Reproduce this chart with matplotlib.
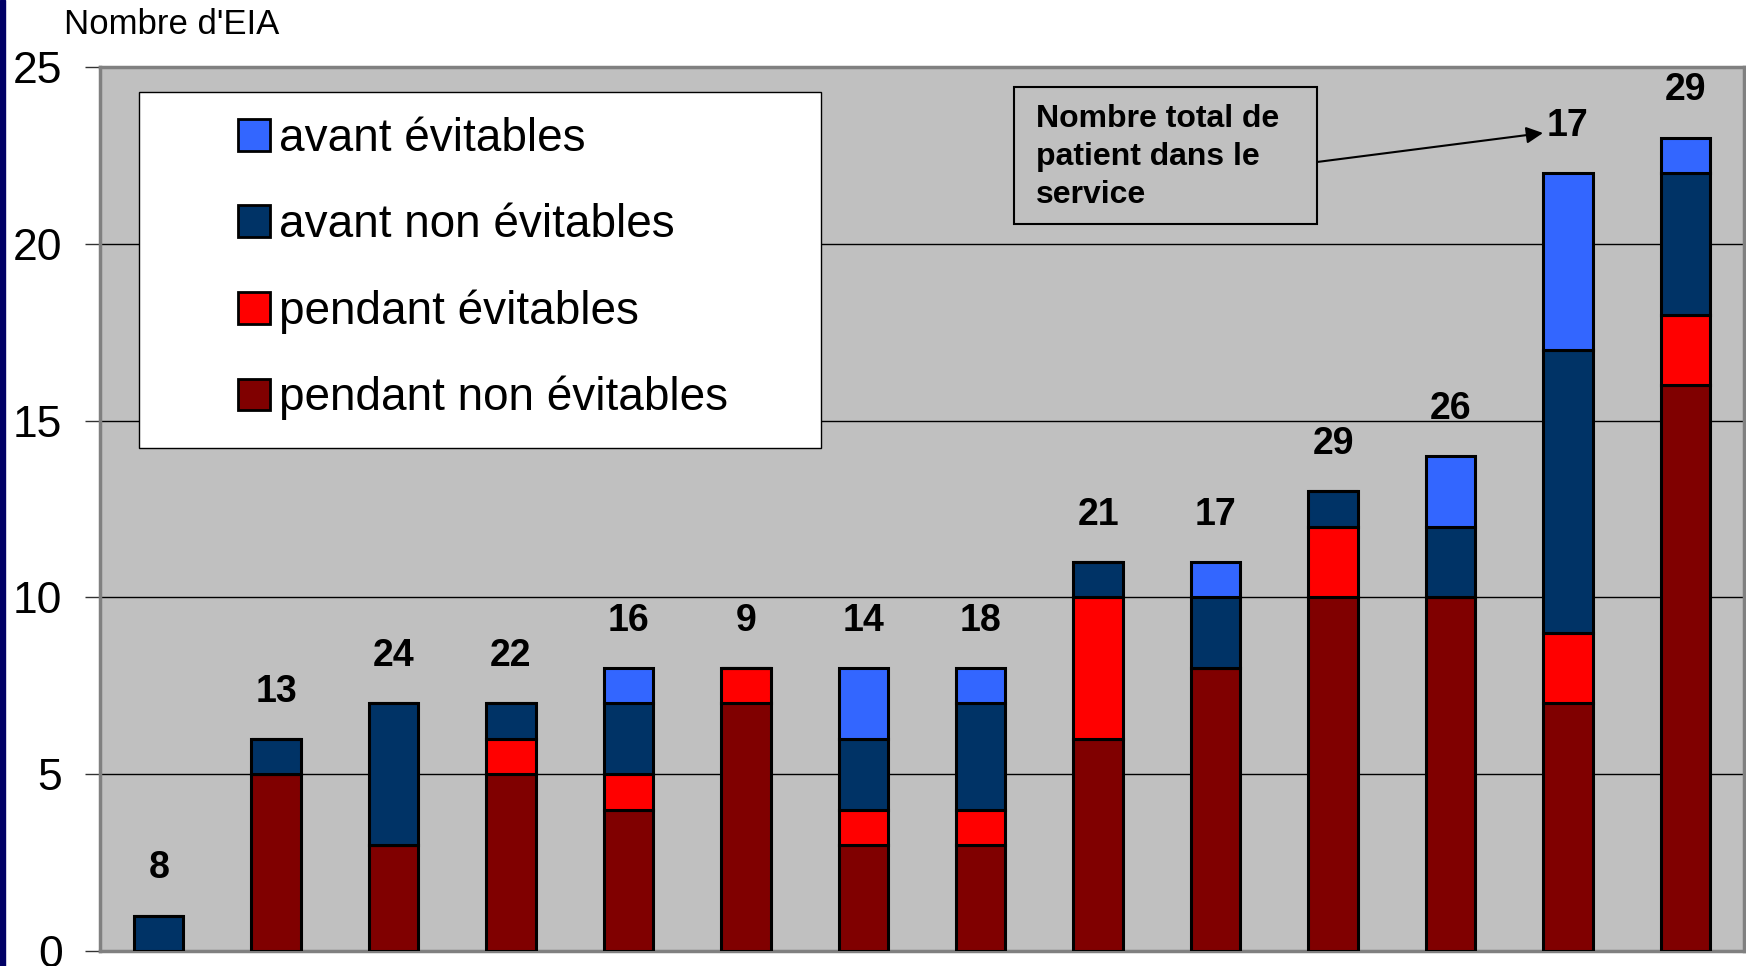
import matplotlib.pyplot as plt
from matplotlib.patches import Patch, Rectangle
import numpy as np

plt.rcParams['font.family'] = ['Liberation Sans', 'DejaVu Sans']

# stacked values, bottom to top
pendant_non_evitables = [0, 5, 3, 5, 4, 7, 3, 3, 6, 8, 10, 10, 7, 16]
pendant_evitables = [0, 0, 0, 1, 1, 1, 1, 1, 4, 0, 2, 0, 2, 2]
avant_non_evitables = [1, 1, 4, 1, 2, 0, 2, 3, 1, 2, 1, 2, 8, 4]
avant_evitables = [0, 0, 0, 0, 1, 0, 2, 1, 0, 1, 0, 2, 5, 1]
# total patients in the service (label above each bar)
nb_patients = [8, 13, 24, 22, 16, 9, 14, 18, 21, 17, 29, 26, 17, 29]

series = [
    ("pendant non évitables", pendant_non_evitables, "#800000"),
    ("pendant évitables", pendant_evitables, "#FF0000"),
    ("avant non évitables", avant_non_evitables, "#003366"),
    ("avant évitables", avant_evitables, "#3366FF"),
]

W, H = 1746, 966
AX_L, AX_B, AX_W, AX_H = 100, 951, 1644, 884  # pixel geometry of the plot area


def ax_frac(px, py):
    # pixel (from top-left) -> axes fraction
    return (px - AX_L) / AX_W, (AX_B - py) / AX_H


fig = plt.figure(figsize=(W / 100, H / 100), dpi=100)
ax = fig.add_axes([AX_L / W, (H - AX_B) / H, AX_W / W, AX_H / H])
ax.set_facecolor("#C0C0C0")

# navy stripe on the left edge of the slide
fig.patches.append(Rectangle((0, 0), 5 / W, 1, transform=fig.transFigure,
                             color="#000066", zorder=0))

x = np.arange(len(nb_patients))
bottom = np.zeros(len(x))
for name, vals, col in series:
    vals = np.array(vals)
    ax.bar(x, vals, 0.42, bottom=bottom, color=col, edgecolor="black",
           linewidth=2.2, zorder=3)
    bottom += vals

for xi, tot, n in zip(x, bottom, nb_patients):
    ax.annotate(str(n), (xi, tot), xytext=(0, 34), textcoords="offset points",
                ha="center", va="center", fontsize=27, fontweight="bold", zorder=5)

ax.set_xlim(-0.5, len(x) - 0.5)
ax.set_ylim(0, 25)
ax.set_yticks([0, 5, 10, 15, 20, 25])
ax.set_xticks([])
ax.tick_params(axis="y", labelsize=32, length=11, width=1, pad=16, color="#333333")
ax.yaxis.grid(True, color="black", linewidth=1)
ax.set_axisbelow(True)
for s in ax.spines.values():
    s.set_color("#808080")
    s.set_linewidth(2.5)

fig.text(64 / W, 1 - 25 / H, "Nombre d'EIA", fontsize=25, va="center", ha="left")

# legend box
lx0, ly0 = ax_frac(139, 448)
ax.add_patch(Rectangle((lx0, ly0), 682 / AX_W, 356 / AX_H, transform=ax.transAxes,
                       facecolor="white", edgecolor="black", linewidth=1, zorder=6))
handles = [Patch(facecolor=c, edgecolor="black", linewidth=2) for _, _, c in series[::-1]]
labels = [n for n, _, _ in series[::-1]]
leg = ax.legend(handles, labels, loc="upper left",
                bbox_to_anchor=ax_frac(238, 117),
                frameon=False, fontsize=33, handlelength=0.69, handleheight=0.69,
                handletextpad=0.2, labelspacing=0.92, borderpad=0, borderaxespad=0)
leg.set_zorder(7)

# callout box + arrow
bx0, by0 = ax_frac(1014, 224)
ax.add_patch(Rectangle((bx0, by0), 303 / AX_W, 137 / AX_H, transform=ax.transAxes,
                       facecolor="#C0C0C0", edgecolor="black", linewidth=1.5, zorder=6))
ax.text(*ax_frac(1036, 157), "Nombre total de\npatient dans le\nservice",
        transform=ax.transAxes, ha="left", va="center", fontsize=23, fontweight="bold",
        linespacing=1.35, zorder=7)
ax.annotate("", xy=ax_frac(1543, 133), xycoords="axes fraction",
            xytext=ax_frac(1317, 162), textcoords="axes fraction",
            arrowprops=dict(arrowstyle="-|>", color="black", lw=1.5,
                            mutation_scale=25, shrinkA=0, shrinkB=0), zorder=6)

fig.savefig("out.png", dpi=100)
